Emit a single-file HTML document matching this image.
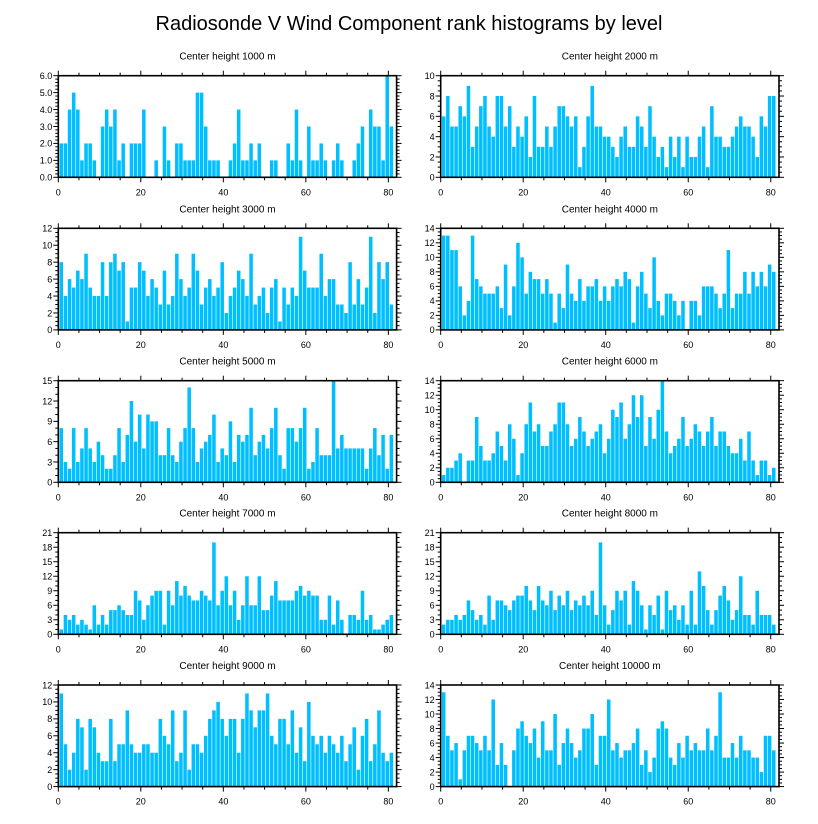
<!DOCTYPE html>
<html><head><meta charset="utf-8"><style>
html,body{margin:0;padding:0;background:#fff;}
svg{display:block;font-family:"Liberation Sans",sans-serif;}
</style></head><body>
<svg id="c" width="818" height="824" viewBox="0 0 818 824" xmlns="http://www.w3.org/2000/svg">
<text x="409" y="30" text-anchor="middle" font-size="20">Radiosonde V Wind Component rank histograms by level</text>
</svg>
<script>
const titles = ["Center height 1000 m","Center height 2000 m","Center height 3000 m","Center height 4000 m","Center height 5000 m","Center height 6000 m","Center height 7000 m","Center height 8000 m","Center height 9000 m","Center height 10000 m"];
const yMaxes = [6,10,12,14,15,14,21,21,12,14];
const yStepsMajor = [1,2,2,2,3,2,3,3,2,2];
const yStepsMinor = [0.2,0.5,0.5,0.5,1,0.5,1,1,0.5,0.5];
const xTickLabels = [0,20,40,60,80];
const h1000 = [2,2,4,5,4,1,2,2,1,0, 3,4,3,4,1,2,0,2,2,2, 4,0,0,1,0,3,1,0,2,2, 1,1,1,5,5,3,1,1,1,0, 0,1,2,4,1,1,2,1,2,0, 0,1,1,0,0,2,1,4,1,0, 3,1,1,2,1,0,1,2,1,0, 0,1,2,3,0,4,3,3,1,6,3];
const h2000 = [6,8,5,5,7,6,9,3,5,7, 8,5,4,8,8,5,7,3,5,4, 6,2,8,3,3,5,3,5,7,7, 6,5,6,1,3,6,9,5,5,4, 4,3,2,4,5,3,3,6,5,3, 7,4,2,3,1,4,2,4,1,4, 2,2,4,5,1,7,4,4,3,3, 4,5,6,5,5,4,2,6,5,8,8];
const h3000 = [8,4,6,5,7,6,9,5,4,4, 8,4,8,9,7,8,1,5,5,8, 7,4,6,5,3,7,3,4,9,6, 4,5,9,7,3,5,6,4,5,8, 2,4,5,7,6,4,9,3,4,5, 2,5,6,1,5,3,5,4,11,7, 5,5,5,9,4,6,6,3,3,2, 8,3,6,3,5,11,2,8,6,8,3];
const h4000 = [13,13,11,11,6,2,4,13,7,6, 5,5,5,6,3,9,2,6,12,10, 5,8,7,7,5,7,5,1,5,3, 9,5,4,7,4,6,6,7,4,6, 4,6,7,6,8,7,1,6,8,5, 3,10,4,2,5,5,4,2,4,0, 4,4,2,6,6,6,5,3,5,11, 3,5,5,8,5,8,6,8,6,9,8];
const h5000 = [8,3,2,8,3,5,8,5,3,6, 4,2,2,4,8,3,7,12,6,10, 5,10,9,9,4,4,8,4,3,6, 8,14,8,3,5,6,7,10,3,5, 4,9,3,7,6,7,11,4,6,7, 5,8,11,4,2,8,8,6,8,11, 2,3,8,4,4,4,15,5,7,5, 5,5,5,5,2,5,8,4,7,2,7];
const h6000 = [1,2,2,3,4,0,3,3,9,5, 3,3,4,7,5,3,8,6,1,4, 8,11,7,8,5,5,7,8,11,11, 8,5,6,9,7,5,6,7,8,4, 6,10,9,11,6,8,12,9,12,5, 9,6,10,14,7,4,5,6,9,5, 6,8,7,5,7,9,5,7,7,5, 4,4,6,3,7,3,1,3,3,1,2];
const h7000 = [1,4,3,4,2,3,2,1,6,2, 4,2,5,5,6,5,4,4,9,7, 3,6,8,9,9,2,9,6,11,8, 10,8,7,7,9,8,7,19,6,9, 12,6,9,3,6,12,6,6,12,5, 5,8,11,7,7,7,7,9,10,8, 9,8,8,3,3,8,2,7,3,0, 4,4,3,9,3,4,1,1,2,3,4];
const h8000 = [2,3,3,4,3,4,7,5,3,4, 2,8,3,7,7,6,5,7,8,8, 10,7,5,10,7,6,9,5,8,6, 9,5,7,6,8,6,9,4,19,6, 2,5,9,7,9,2,11,9,6,1, 6,4,8,1,9,5,6,3,6,2, 9,2,13,10,5,2,5,8,10,7, 3,5,12,4,4,2,9,4,4,4,2];
const h9000 = [11,5,2,4,8,7,2,8,7,4, 3,3,8,3,5,5,9,5,4,4, 5,5,4,4,8,6,5,9,3,4, 9,2,5,5,4,6,8,9,10,8, 6,8,8,4,8,11,9,7,9,9, 11,6,5,8,8,5,9,4,7,3, 10,6,5,6,4,6,5,4,6,3, 5,7,2,6,8,3,5,9,4,3,4];
const h10000 = [13,7,5,6,1,5,7,7,6,5, 7,5,12,3,6,3,0,5,8,9, 7,6,8,4,9,5,5,10,3,6, 8,6,4,5,8,8,10,3,7,7, 12,5,6,4,5,5,6,8,3,5, 2,4,8,9,8,4,3,6,4,7, 5,6,5,5,8,5,7,13,4,4, 6,4,7,5,5,4,4,2,7,7,5];
const series = [h1000,h2000,h3000,h4000,h5000,h6000,h7000,h8000,h9000,h10000];

const NS="http://www.w3.org/2000/svg";
const svg=document.getElementById('c');
function mk(tag,attrs,parent){const e=document.createElementNS(NS,tag);for(const k in attrs)e.setAttribute(k,attrs[k]);(parent||svg).appendChild(e);return e;}
const colX=[58.3,440.7], rowY=[75.7,228.3,380.7,532.7,685], W=338.3, H=101.6, XMAX=82;
for(let p=0;p<10;p++){
  const L=colX[p%2], T=rowY[Math.floor(p/2)], B=T+H, R=L+W;
  const ymax=yMaxes[p];
  const xs=v=>L+v/XMAX*W, ys=v=>B-v/ymax*H;
  const g=mk('g',{});
  
  
  const t=mk('text',{x:(L+R)/2,y:T-16,'text-anchor':'middle','font-size':'10'},g);
  
  
  t.textContent=titles[p];
  const bars=mk('g',{},g);
  
  
  series[p].forEach((v,i)=>{
    const k=i+1;
    const x0=xs(k-0.7), x1=xs(k+0.3);
    const r=mk('rect',{x:x0,y:ys(v),width:Math.max(0,x1-x0-0.6),height:B-ys(v),fill:'#00bfff'},bars);
    
    
  });
  const ax=mk('g',{stroke:'#000',fill:'none'},g);
  
  
  for(let v=0;v<=XMAX;v+=5){
    const len=(v%20===0)?5:3, x=xs(v);
    mk('line',{x1:x,x2:x,y1:T,y2:T-len,'stroke-width':1},ax);
    mk('line',{x1:x,x2:x,y1:B,y2:B+len,'stroke-width':1},ax);
  }
  const nMin=Math.round(ymax/yStepsMinor[p]);
  for(let j=0;j<=nMin;j++){
    const v=j*yStepsMinor[p], y=ys(v);
    const maj=Math.abs(v/yStepsMajor[p]-Math.round(v/yStepsMajor[p]))<1e-6;
    const len=maj?5:3;
    mk('line',{x1:L,x2:L-len,y1:y,y2:y,'stroke-width':1},ax);
    mk('line',{x1:R,x2:R+len,y1:y,y2:y,'stroke-width':1},ax);
  }
  mk('rect',{x:L,y:T,width:W,height:H,'stroke-width':1.6},ax);
  const nMaj=Math.round(ymax/yStepsMajor[p]);
  for(let j=0;j<=nMaj;j++){
    const v=j*yStepsMajor[p];
    const lt=mk('text',{x:L-6,y:ys(v)+3.3,'text-anchor':'end','font-size':'9'},g);
    
    
    lt.textContent=(p===0)?v.toFixed(1):String(v);
  }
  xTickLabels.forEach(v=>{
    const xt=mk('text',{x:xs(v),y:B+18,'text-anchor':'middle','font-size':'9'},g);
    
    
    xt.textContent=String(v);
  });
}
</script>
</body></html>
